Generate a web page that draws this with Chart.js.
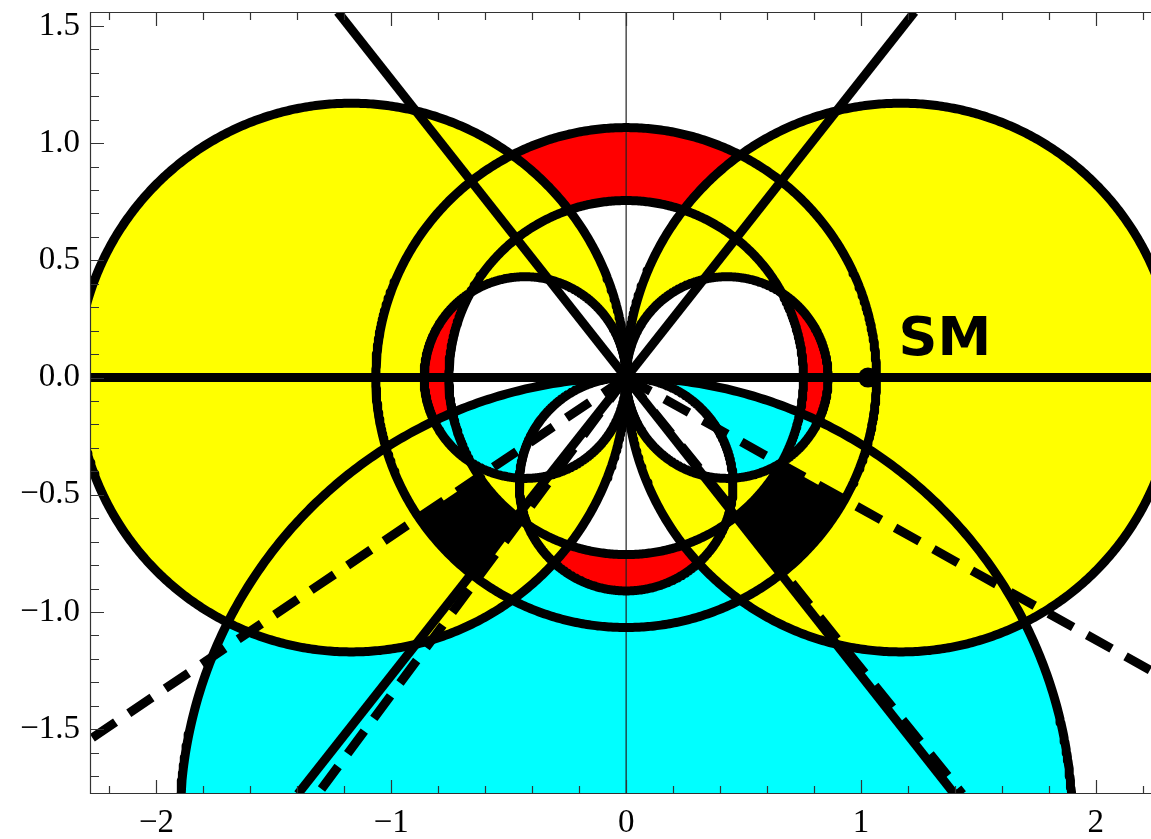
<!DOCTYPE html>
<html>
<head>
<meta charset="utf-8">
<script src="https://cdn.jsdelivr.net/npm/chart.js@4.4.1/dist/chart.umd.min.js"></script>
<style>
html,body{margin:0;padding:0;background:#ffffff;}
#wrap{width:1151px;height:839px;}
</style>
</head>
<body>
<div id="wrap"><canvas id="c" width="1151" height="839"></canvas></div>
<script>
// ---------------- data ----------------
const xMin = -2.283, xMax = 2.235;
const yMin = -1.776, yMax = 1.559;

const xTickValues = [-2, -1, 0, 1, 2];
const xTickLabels = ['\u22122', '\u22121', '0', '1', '2'];
const yTickValues = [-1.5, -1.0, -0.5, 0.0, 0.5, 1.0, 1.5];
const yTickLabels = ['\u22121.5', '\u22121.0', '\u22120.5', '0.0', '0.5', '1.0', '1.5'];
const xMinorStep = 0.2;
const yMinorStep = 0.1;

// circles: centre x, centre y, radius
const circleNames = ['L', 'R', 'O', 'M', 'PL', 'PR', 'Q', 'C'];
const circleCX  = [-1.17, 1.17, 0,     0,     -0.43, 0.43, 0,      0];
const circleCY  = [0,     0,    0,     0,     0,     0,    -0.455, -1.9];
const circleRad = [1.17,  1.17, 1.066, 0.755, 0.43,  0.43, 0.455,  1.9];

// solid straight lines (end points)
const solidLineX = [[-2.283, 2.235], [-1.398, 1.228], [-1.228, 1.398]];
const solidLineY = [[0, 0], [-1.776, 1.559], [1.559, -1.776]];

// dashed straight lines from the origin (end points)
const dashedLineX = [[0, -2.283], [0, 2.235], [0, -1.313], [0, 1.432]];
const dashedLineY = [[0, -1.543], [0, -1.25], [0, -1.776], [0, -1.776]];

// SM point and label
const smX = [1.03];
const smY = [0];
const smLabel = 'SM';
const smLabelPos = [1.16, 0.096];

// filled regions (even-odd combinations of circles), bottom to top
const regionCircles = [['O', 'M'], ['C', 'Q'], ['L', 'R', 'PL', 'PR']];
const regionColors  = ['#ff0000', '#00ffff', '#ffff00'];
// black sectors: annulus O-M between pairs of dashed lines
const sectorPairs = [[0, 2], [1, 3]];

// ---------------- helpers ----------------
const NSEG = 720;
function circlePts(i) {
  const pts = [];
  for (let k = 0; k <= NSEG; k++) {
    const t = 2 * Math.PI * k / NSEG;
    pts.push({x: circleCX[i] + circleRad[i] * Math.cos(t), y: circleCY[i] + circleRad[i] * Math.sin(t)});
  }
  return pts;
}
function addCirclePath(ctx, xs, ys, name) {
  const i = circleNames.indexOf(name);
  const pts = circlePts(i);
  ctx.moveTo(xs.getPixelForValue(pts[0].x), ys.getPixelForValue(pts[0].y));
  for (let k = 1; k < pts.length; k++) ctx.lineTo(xs.getPixelForValue(pts[k].x), ys.getPixelForValue(pts[k].y));
  ctx.closePath();
}

const regionPlugin = {
  id: 'regions',
  beforeDatasetsDraw(chart) {
    const {ctx, chartArea: a, scales: {x, y}} = chart;
    ctx.save();
    ctx.beginPath();
    ctx.rect(a.left, a.top, a.right - a.left, a.bottom - a.top);
    ctx.clip();
    regionCircles.forEach((names, r) => {
      ctx.beginPath();
      names.forEach(n => addCirclePath(ctx, x, y, n));
      ctx.fillStyle = regionColors[r];
      ctx.fill('evenodd');
    });
    sectorPairs.forEach(([p, q]) => {
      ctx.save();
      ctx.beginPath();
      ctx.moveTo(x.getPixelForValue(dashedLineX[p][0]), y.getPixelForValue(dashedLineY[p][0]));
      ctx.lineTo(x.getPixelForValue(dashedLineX[p][1]), y.getPixelForValue(dashedLineY[p][1]));
      ctx.lineTo(x.getPixelForValue(dashedLineX[q][1]), y.getPixelForValue(dashedLineY[q][1]));
      ctx.closePath();
      ctx.clip();
      ctx.beginPath();
      addCirclePath(ctx, x, y, 'O');
      addCirclePath(ctx, x, y, 'M');
      ctx.fillStyle = '#000000';
      ctx.fill('evenodd');
      ctx.restore();
    });
    ctx.restore();
  },
  afterDatasetsDraw(chart) {
    const {ctx, chartArea: a, scales: {x, y}} = chart;
    ctx.save();
    // SM label
    ctx.fillStyle = '#000';
    ctx.font = 'bold 54px "DejaVu Sans"';
    ctx.textAlign = 'left';
    ctx.textBaseline = 'alphabetic';
    ctx.fillText(smLabel, x.getPixelForValue(smLabelPos[0]), y.getPixelForValue(smLabelPos[1]));
    // frame and inward ticks
    ctx.strokeStyle = '#333';
    ctx.lineWidth = 1.2;
    ctx.beginPath();
    ctx.moveTo(a.left + 0.5, a.top); ctx.lineTo(a.left + 0.5, a.bottom);
    ctx.moveTo(a.left, a.top + 0.5); ctx.lineTo(a.right, a.top + 0.5);
    ctx.moveTo(a.left, a.bottom - 0.5); ctx.lineTo(a.right, a.bottom - 0.5);
    const nx0 = Math.ceil(xMin / xMinorStep), nx1 = Math.floor(xMax / xMinorStep);
    for (let k = nx0; k <= nx1; k++) {
      const v = k * xMinorStep;
      const major = Math.abs(v - Math.round(v)) < 1e-6;
      const len = major ? 14 : 8;
      const px = Math.round(x.getPixelForValue(v)) + 0.5;
      ctx.moveTo(px, a.bottom); ctx.lineTo(px, a.bottom - len);
      ctx.moveTo(px, a.top); ctx.lineTo(px, a.top + len);
    }
    const ny0 = Math.ceil(yMin / yMinorStep), ny1 = Math.floor(yMax / yMinorStep);
    for (let k = ny0; k <= ny1; k++) {
      const v = k * yMinorStep;
      const major = Math.abs(v * 2 - Math.round(v * 2)) < 1e-6;
      const len = major ? 14 : 9;
      const py = Math.round(y.getPixelForValue(v)) + 0.5;
      ctx.moveTo(a.left, py); ctx.lineTo(a.left + len, py);
    }
    ctx.stroke();
    ctx.restore();
  }
};

// ---------------- datasets ----------------
const datasets = [];
// SM point (on top)
datasets.push({data: smX.map((v, i) => ({x: v, y: smY[i]})), showLine: false, pointRadius: 10,
  pointBackgroundColor: '#000', pointBorderColor: '#000', pointBorderWidth: 0, clip: 0});
// solid lines
solidLineX.forEach((xs, i) => datasets.push({
  data: xs.map((v, k) => ({x: v, y: solidLineY[i][k]})), showLine: true, pointRadius: 0,
  borderColor: '#000', borderWidth: 9, borderCapStyle: 'butt', clip: 0}));
// dashed lines
dashedLineX.forEach((xs, i) => datasets.push({
  data: xs.map((v, k) => ({x: v, y: dashedLineY[i][k]})), showLine: true, pointRadius: 0,
  borderColor: '#000', borderWidth: 9, borderDash: [28, 16], borderCapStyle: 'butt', clip: 0}));
// circles
circleNames.forEach((n, i) => datasets.push({
  data: circlePts(i), showLine: true, pointRadius: 0, borderColor: '#000', borderWidth: 9,
  borderJoinStyle: 'round', clip: 0}));
// thin x = 0 axis line (drawn first, under everything)
datasets.push({data: [{x: 0, y: yMin}, {x: 0, y: yMax}], showLine: true, pointRadius: 0,
  borderColor: '#222', borderWidth: 1.2, clip: 0});

const tickFont = {family: 'Liberation Serif', size: 33};

new Chart(document.getElementById('c'), {
  type: 'scatter',
  data: {datasets},
  options: {
    responsive: false,
    animation: false,
    events: [],
    layout: {autoPadding: false, padding: {top: 12, left: 0, right: 0, bottom: 0}},
    plugins: {legend: {display: false}, tooltip: {enabled: false}},
    elements: {line: {tension: 0}},
    scales: {
      x: {
        type: 'linear', min: xMin, max: xMax,
        afterBuildTicks: s => { s.ticks = xTickValues.map(v => ({value: v})); },
        ticks: {callback: v => xTickLabels[xTickValues.indexOf(v)], font: tickFont, color: '#000',
          padding: 10, maxRotation: 0, autoSkip: false},
        grid: {display: false, drawTicks: false},
        border: {display: false},
        afterFit: s => { s.height = 45; s.paddingLeft = 0; s.paddingRight = 0; }
      },
      y: {
        type: 'linear', min: yMin, max: yMax,
        afterBuildTicks: s => { s.ticks = yTickValues.map(v => ({value: v})); },
        ticks: {callback: v => yTickLabels[yTickValues.findIndex(t => Math.abs(t - v) < 1e-9)], font: tickFont,
          color: '#000', padding: 10, autoSkip: false},
        grid: {display: false, drawTicks: false},
        border: {display: false},
        afterFit: s => { s.width = 90; s.paddingTop = 0; s.paddingBottom = 0; }
      }
    }
  },
  plugins: [regionPlugin]
});
</script>
</body>
</html>
